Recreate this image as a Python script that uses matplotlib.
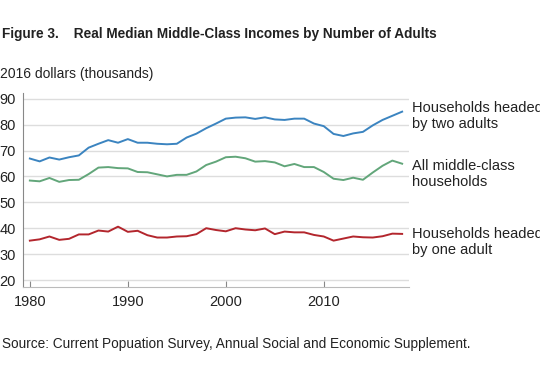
import numpy as np
import matplotlib.pyplot as plt

plt.rcParams['font.family'] = ['Liberation Sans', 'DejaVu Sans']

years = list(range(1980, 2019))

two_adults = [66.9, 65.8, 67.3, 66.5, 67.4, 68.1, 71.1, 72.6, 74.0, 73.0,
              74.4, 73.0, 73.0, 72.6, 72.4, 72.6, 75.0, 76.5, 78.6, 80.4,
              82.3, 82.7, 82.8, 82.2, 82.8, 82.0, 81.8, 82.3, 82.3, 80.4,
              79.4, 76.4, 75.6, 76.6, 77.2, 79.7, 81.8, 83.4, 85.0]

all_mc = [58.4, 58.1, 59.4, 57.9, 58.6, 58.7, 60.9, 63.4, 63.6, 63.2,
          63.1, 61.7, 61.6, 60.8, 60.0, 60.6, 60.6, 61.9, 64.4, 65.7,
          67.4, 67.6, 67.0, 65.7, 65.9, 65.4, 63.9, 64.8, 63.6, 63.6,
          61.7, 59.1, 58.6, 59.5, 58.7, 61.5, 64.1, 66.1, 64.9]

one_adult = [35.2, 35.7, 36.8, 35.5, 35.9, 37.6, 37.6, 39.1, 38.7, 40.6,
             38.6, 39.0, 37.3, 36.4, 36.4, 36.8, 36.9, 37.7, 40.0, 39.3,
             38.8, 40.0, 39.5, 39.2, 39.9, 37.7, 38.7, 38.4, 38.4, 37.4,
             36.8, 35.2, 36.0, 36.8, 36.5, 36.4, 36.9, 37.9, 37.8]

series = [
    (two_adults, '#3b84c0', 'Households headed\nby two adults', 116),
    (all_mc, '#62a67a', 'All middle-class\nhouseholds', 174),
    (one_adult, '#b3262d', 'Households headed\nby one adult', 242),
]

fig = plt.figure(figsize=(5.4, 3.75), dpi=100)
ax = fig.add_axes([23 / 540, 1 - 287 / 375, (409 - 23) / 540, (287 - 93) / 375])

for vals, col, lab, ypix in series:
    ax.plot(years, vals, color=col, lw=1.4, zorder=3)
    fig.text(412 / 540, 1 - ypix / 375, lab, fontsize=10.5, color='#222222',
             va='center', ha='left', linespacing=1.2)

ax.set_xlim(1979.3, 2018.7)
ax.set_ylim(17.3, 92.2)
ax.set_yticks(range(20, 100, 10))
ax.set_xticks([1980, 1990, 2000, 2010])
ax.grid(axis='y', color='#dddddd', lw=1.0, zorder=0)
ax.set_axisbelow(True)

for s in ['top', 'right']:
    ax.spines[s].set_visible(False)
ax.spines['left'].set_color('#888888')
ax.spines['bottom'].set_color('#bbbbbb')
ax.tick_params(axis='y', length=0, pad=5, labelsize=10.5, labelcolor='#222222')
ax.tick_params(axis='x', direction='in', length=4, color='#888888', pad=6,
               labelsize=10.5, labelcolor='#222222')

fig.text(2 / 540, 1 - 34 / 375, 'Figure 3.    Real Median Middle-Class Incomes by Number of Adults',
         fontsize=9.8, fontweight='bold', color='#222222', va='center', ha='left')
fig.text(0 / 540, 1 - 74 / 375, '2016 dollars (thousands)', fontsize=10,
         color='#222222', va='center', ha='left')
fig.text(2 / 540, 1 - 344 / 375,
         'Source: Current Popuation Survey, Annual Social and Economic Supplement.',
         fontsize=9.85, color='#222222', va='center', ha='left')

fig.savefig('out.png', dpi=100)
